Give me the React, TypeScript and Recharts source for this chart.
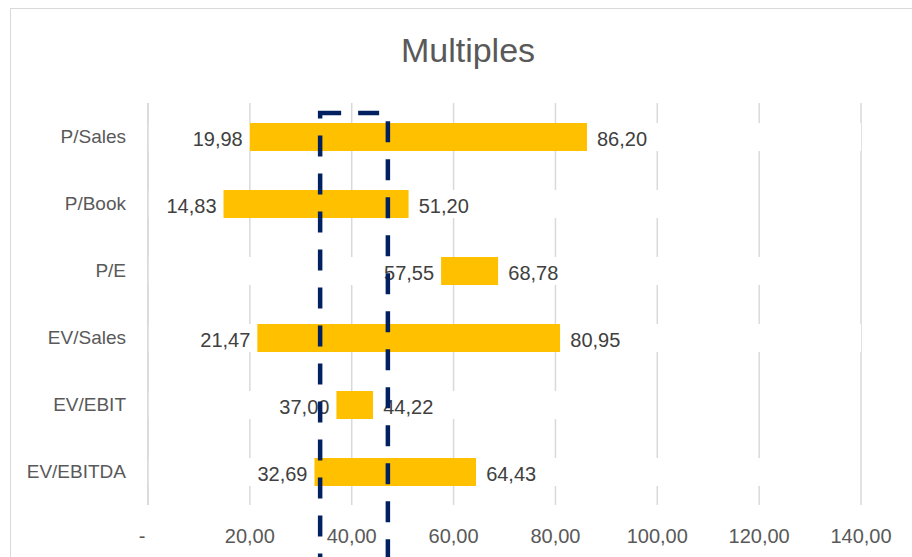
import {
  BarChart,
  Bar,
  XAxis,
  YAxis,
  CartesianGrid,
  LabelList,
  ReferenceArea
} from "recharts";


const categories = ["P/Sales", "P/Book", "P/E", "EV/Sales", "EV/EBIT", "EV/EBITDA"];

const lows = [19.98, 14.83, 57.55, 21.47, 37.0, 32.69];

const highs = [86.2, 51.2, 68.78, 80.95, 44.22, 64.43];

const xTicks = [0, 20, 40, 60, 80, 100, 120, 140];

// dashed target box on the x axis
const targetRange = [33.8, 47.1];


const data = categories.map((name, i) => ({
  name,
  low: lows[i],
  span: highs[i] - lows[i],
  high: highs[i],
}));


const fmt = (v: number) =>
  v === 0 ? "-" : v.toFixed(2).replace(".", ",");


const XTick = (props: any) => {
  const { x, y, payload } = props;
  return (
    <text
      x={x + (payload.value === 0 ? -6 : 0)}
      y={y}
      dy={32}
      textAnchor="middle"
      fill="#595959"
      fontSize={20}
    >
      {fmt(payload.value)}
    </text>
  );
};


const DashedBox = (props: any) => {
  const { x, y, width, height } = props;
  return (
    <rect
      x={x}
      y={y + 10}
      width={width}
      height={height + 46}
      fill="none"
      stroke="#002060"
      strokeWidth={4.5}
      strokeDasharray="21 17"
    />
  );
};


const chartMargin = { top: 103, right: 51, bottom: 12, left: 0 };
// hidden axes take no room, so the overlay reserves their space in its margin
const overlayMargin = { top: 103, right: 51, bottom: 52, left: 148 };


export default function App() {

  return (
    <div
      style={{
        position: "relative",
        width: 912,
        height: 557,
        overflow: "hidden",
        fontFamily: "'Liberation Sans', Arial, sans-serif",
        background: "#fff",
      }}
    >
      <style>{`body { margin: 0; overflow: hidden; }`}</style>

      <div
        style={{
          position: "absolute",
          left: 10,
          top: 8,
          width: 1000,
          height: 1000,
          border: "1px solid #d9d9d9",
        }}
      />

      <div
        style={{
          position: "absolute",
          left: 268,
          top: 33,
          width: 400,
          textAlign: "center",
          fontSize: 34,
          lineHeight: "34px",
          color: "#595959",
        }}
      >
        Multiples
      </div>

      <BarChart
        width={912}
        height={557}
        data={data}
        layout="vertical"
        margin={chartMargin}
        style={{ position: "absolute", left: 0, top: 0 }}
      >

        <CartesianGrid
          horizontal={false}
          stroke="#d9d9d9"
          strokeWidth={1.5}
        />

        <XAxis
          type="number"
          domain={[0, 140]}
          ticks={xTicks}
          allowDataOverflow
          axisLine={false}
          tickLine={false}
          tickMargin={0}
          height={40}
          tick={<XTick />}
        />

        <YAxis
          type="category"
          dataKey="name"
          width={148}
          axisLine={{ stroke: "#d9d9d9", strokeWidth: 1.5 }}
          tickLine={false}
          tickMargin={16}
          tick={{ fill: "#595959", fontSize: 19 }}
        />


        <Bar
          dataKey="low"
          stackId="a"
          fill="#ffffff"
          barSize={28}
          isAnimationActive={false}
        >
          <LabelList
            dataKey="low"
            position="insideRight"
            offset={7}
            formatter={(v: any) => fmt(Number(v))}
            fill="#404040"
            fontSize={20}
            dy={2}
          />
        </Bar>

        <Bar
          dataKey="span"
          stackId="a"
          fill="#FFC000"
          barSize={28}
          isAnimationActive={false}
        />

        <Bar
          dataKey="high"
          stackId="a"
          fill="#ffffff"
          barSize={28}
          isAnimationActive={false}
        >
          <LabelList
            dataKey="high"
            position="insideLeft"
            offset={10}
            formatter={(v: any) => fmt(Number(v))}
            fill="#404040"
            fontSize={20}
            dy={2}
          />
        </Bar>

      </BarChart>

      {/* overlay chart with the same scales, so the dashed box sits on top of bars and labels */}
      <BarChart
        width={912}
        height={557}
        data={data}
        layout="vertical"
        margin={overlayMargin}
        style={{ position: "absolute", left: 0, top: 0, pointerEvents: "none" }}
      >
        <XAxis
          type="number"
          domain={[0, 140]}
          ticks={xTicks}
          allowDataOverflow
          hide
        />
        <YAxis
          type="category"
          dataKey="name"
          hide
        />
        <ReferenceArea
          x1={targetRange[0]}
          x2={targetRange[1]}
          ifOverflow="visible"
          shape={DashedBox}
        />
      </BarChart>
    </div>
  );
}
